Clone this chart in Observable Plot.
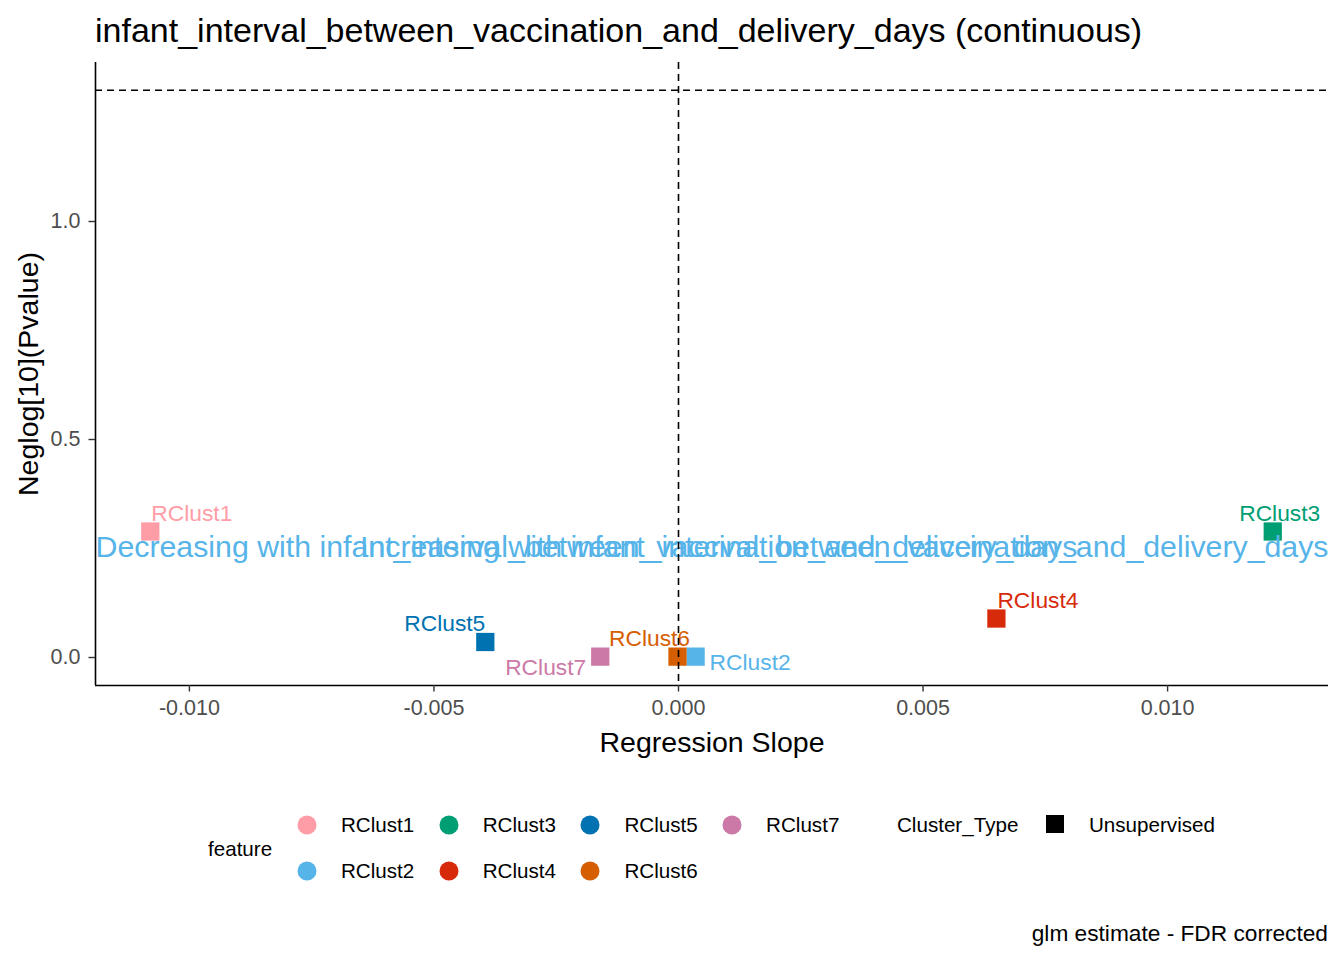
<!DOCTYPE html>
<html>
<head>
<meta charset="utf-8">
<script src="https://cdn.jsdelivr.net/npm/d3@7"></script>
<script src="https://cdn.jsdelivr.net/npm/@observablehq/plot@0.6"></script>
<style>
  body { margin: 0; background: white; font-family: "Liberation Sans", Arial, sans-serif; }
  #wrap { position: relative; width: 1344px; height: 960px; overflow: hidden; background: white; }
  #chart { position: absolute; left: 0; top: 0; }
  .abs { position: absolute; white-space: nowrap; line-height: 1; }
  #title { left: 95px; top: 30px; font-size: 34px; color: #000; transform: translateY(-50%); }
  #caption { right: 16px; top: 933px; font-size: 22.7px; color: #000; transform: translateY(-50%); }
  .leg-text { font-size: 20.6px; color: #000; transform: translateY(-50%); }
  .leg-dot { position: absolute; width: 19px; height: 19px; border-radius: 50%; transform: translate(-50%, -50%); }
  .leg-sq { position: absolute; width: 18px; height: 18px; background: #000; transform: translate(-50%, -50%); }
</style>
</head>
<body>
<div id="wrap">
  <div id="chart"></div>
  <div id="title" class="abs">infant_interval_between_vaccination_and_delivery_days (continuous)</div>
  <div id="legend"></div>
  <div id="caption" class="abs">glm estimate - FDR corrected</div>
</div>
<script>
// ---------- data ----------
const features = ["RClust1", "RClust2", "RClust3", "RClust4", "RClust5", "RClust6", "RClust7"];
const slopes   = [-0.0108, 0.00035, 0.01215, 0.0065, -0.00395, -0.00002, -0.0016];
const neglogP  = [0.289, 0.002, 0.289, 0.0894, 0.0356, 0.002, 0.002];
const clusterTypes = ["Unsupervised", "Unsupervised", "Unsupervised", "Unsupervised", "Unsupervised", "Unsupervised", "Unsupervised"];
const featureColors = ["#FF9DA7", "#56B4E9", "#009E73", "#D72A0A", "#0072B2", "#D55E00", "#CC79A7"];
const xTicks = [-0.010, -0.005, 0.000, 0.005, 0.010];
const yTicks = [0.0, 0.5, 1.0];
const pThreshold = 0.05;
const annotations = [
  "Decreasing with infant_interval_between_vaccination_and_delivery_days",
  "Increasing with infant_interval_between_vaccination_and_delivery_days"
];
const annotationY = 0.252;
const xTitle = "Regression Slope";
const yTitle = "Neglog[10](Pvalue)";
const legendTitle = "feature";
const shapeTitle = "Cluster_Type";

const rows = features.map((f, i) => ({feature: f, slope: slopes[i], neglogp: neglogP[i], type: clusterTypes[i]}));
const threshold = -Math.log10(pThreshold);
const xDomain = [-0.01192, 0.01329];
const yDomain = [-0.0642, 1.3647];

// label nudges (ggrepel-style placement)
const nudges = {
  RClust1: {dx: 1,   dy: -18, anchor: "start"},
  RClust2: {dx: 14,  dy: 6,   anchor: "start"},
  RClust3: {dx: 7,   dy: -18, anchor: "middle"},
  RClust4: {dx: 1,   dy: -18, anchor: "start"},
  RClust5: {dx: 0,   dy: -18, anchor: "end"},
  RClust6: {dx: -28, dy: -18, anchor: "middle"},
  RClust7: {dx: -14, dy: 11,  anchor: "end"}
};

const font = "Liberation Sans, Arial, sans-serif";
const labelMarks = rows.map(r => Plot.text([r], {
  x: "slope", y: "neglogp", text: "feature", fill: "feature",
  dx: nudges[r.feature].dx, dy: nudges[r.feature].dy, textAnchor: nudges[r.feature].anchor,
  fontSize: 22.8
}));

const plot = Plot.plot({
  width: 1344,
  height: 770,
  marginTop: 62,
  marginLeft: 95,
  marginRight: 16,
  marginBottom: 85,
  style: {fontFamily: font, background: "white", overflow: "visible"},
  x: {domain: xDomain},
  y: {domain: yDomain},
  color: {domain: features, range: featureColors},
  marks: [
    Plot.dot(rows, {x: "slope", y: "neglogp", fill: "feature", symbol: "square", r: 10.3, stroke: null}),
    ...labelMarks,
    Plot.text([annotations[0]], {y: () => annotationY, frameAnchor: "left", textAnchor: "start", fill: "#56B4E9", fontSize: 30.3}),
    Plot.text([annotations[1]], {y: () => annotationY, frameAnchor: "right", textAnchor: "end", fill: "#56B4E9", fontSize: 30.3}),
    Plot.ruleX([0], {stroke: "black", strokeWidth: 1.6, strokeDasharray: "7,5"}),
    Plot.ruleY([threshold], {stroke: "black", strokeWidth: 1.6, strokeDasharray: "7,5"}),
    Plot.ruleX([xDomain[0]], {stroke: "black", strokeWidth: 1.6}),
    Plot.ruleY([yDomain[0]], {stroke: "black", strokeWidth: 1.6}),
    Plot.axisX({ticks: xTicks, tickFormat: d => d.toFixed(3), tickSize: 6.5, tickPadding: 8, fontSize: 21.5, stroke: "#333", strokeWidth: 1.4, fill: "#4D4D4D", label: null}),
    Plot.axisY({ticks: yTicks, tickFormat: d => d.toFixed(1), tickSize: 6.5, tickPadding: 8.5, fontSize: 21.5, stroke: "#333", strokeWidth: 1.4, fill: "#4D4D4D", label: null}),
    Plot.text([xTitle], {frameAnchor: "bottom", lineAnchor: "middle", dy: 57, fontSize: 28.5, fill: "black"}),
    Plot.text([yTitle], {frameAnchor: "left", textAnchor: "middle", lineAnchor: "middle", dx: -67, rotate: -90, fontSize: 28.5, fill: "black"})
  ]
});
document.getElementById("chart").appendChild(plot);

// ---------- legend (HTML) ----------
const legend = d3.select("#legend");
legend.append("div").attr("class", "abs leg-text").style("left", "208px").style("top", "849px").text(legendTitle);
features.forEach((f, i) => {
  const col = Math.floor(i / 2), row = i % 2;
  const cx = 307 + col * 141.7, cy = 825 + row * 46;
  legend.append("div").attr("class", "leg-dot").style("left", cx + "px").style("top", cy + "px").style("background", featureColors[i]);
  legend.append("div").attr("class", "abs leg-text").style("left", (cx + 34) + "px").style("top", cy + "px").text(f);
});
legend.append("div").attr("class", "abs leg-text").style("left", "897px").style("top", "825px").text(shapeTitle);
legend.append("div").attr("class", "leg-sq").style("left", "1055px").style("top", "824px");
legend.append("div").attr("class", "abs leg-text").style("left", "1089px").style("top", "825px").text(Array.from(new Set(clusterTypes))[0]);
</script>
</body>
</html>
